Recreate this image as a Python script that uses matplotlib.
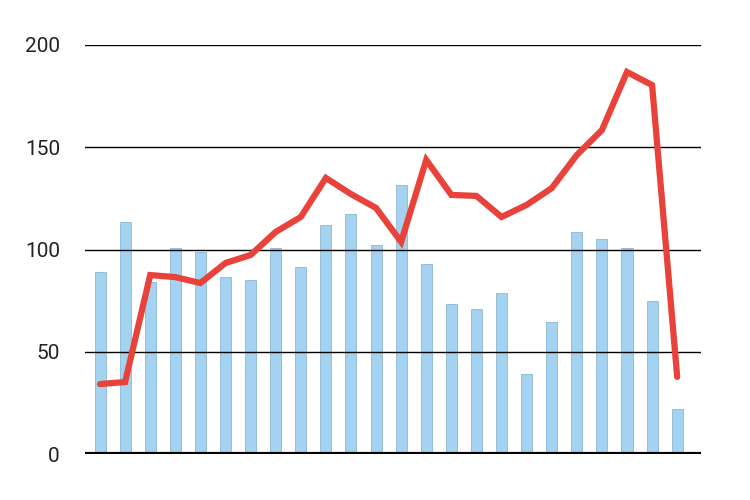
#!/usr/bin/env python3
import matplotlib
matplotlib.use("Agg")
import matplotlib.pyplot as plt
import numpy as np

# valores
barras = [89, 113.4, 84, 100.7, 99, 86.5, 85, 100.7, 91.4, 112, 117.4, 102,
          131.5, 93, 73.3, 71, 78.7, 39, 64.5, 108.5, 105, 100.7, 74.8, 22]
linea = [34.2, 35.2, 87.5, 86.5, 83.6, 93.4, 97.3, 108.6, 115.9, 135, 127.1, 120.3,
         103.7, 143.8, 126.7, 126.2, 115.9, 121.8, 130, 146.2, 158.4, 186.8, 180.4, 37.7]
yticks = [0, 50, 100, 150, 200]


def grafico():
    plt.rcParams['font.family'] = ['Roboto', 'DejaVu Sans']
    fig = plt.figure(figsize=(7.5, 5), dpi=100)
    ax = fig.add_axes([0.1133, 0.092, 0.8214, 0.818])
    x = np.arange(len(barras))

    ax.bar(x, barras, width=0.44, color='#a3d3f0', edgecolor='#8fb8d2',
           linewidth=0.6, zorder=2)
    ax.plot(x, linea, color='#e8423a', linewidth=4.5, solid_joinstyle='miter',
            solid_capstyle='round', zorder=4, clip_on=False)

    for v in yticks[1:]:
        ax.axhline(v, color='black', linewidth=1, zorder=3)
    ax.axhline(0, color='black', linewidth=3, zorder=5)

    ax.set_xlim(-0.6, 23.95)
    ax.set_ylim(0, 200)
    ax.set_yticks(yticks)
    ax.set_xticks([])
    ax.tick_params(axis='y', length=0, pad=18, labelsize=15, labelcolor='#222222')
    for s in ax.spines.values():
        s.set_visible(False)

    fig.savefig('out.png', dpi=100)


if __name__ == "__main__":
    grafico()
